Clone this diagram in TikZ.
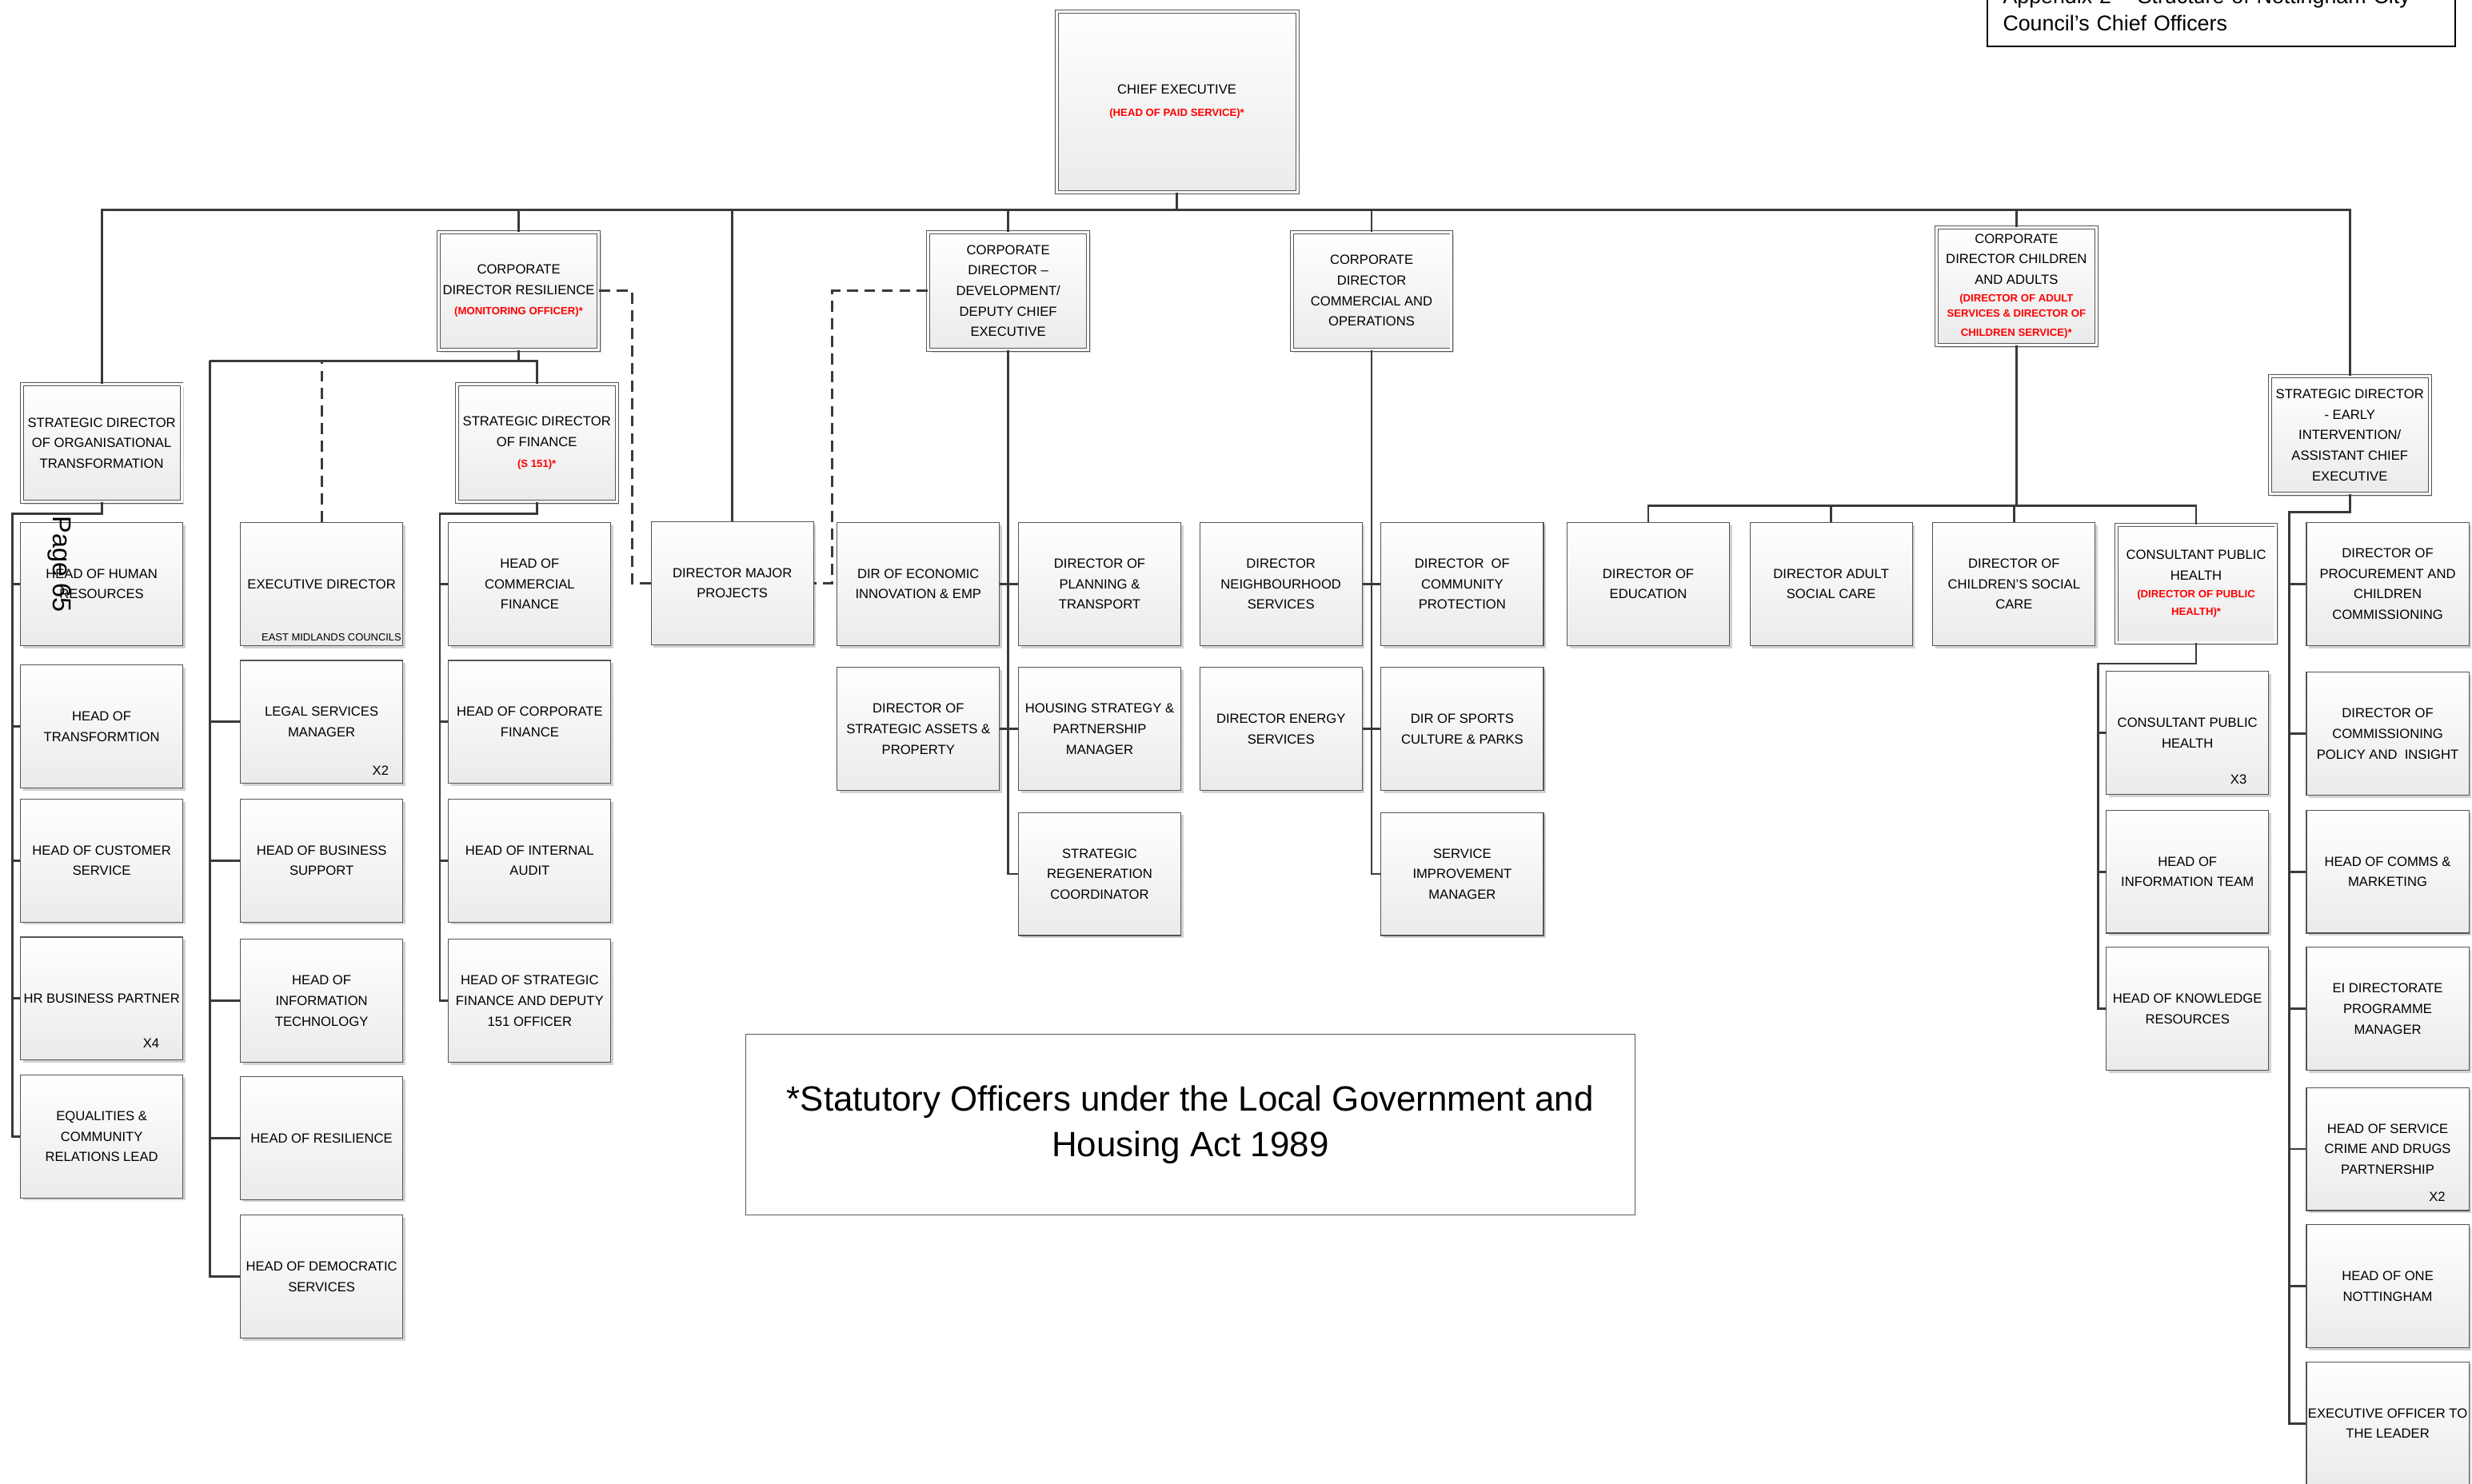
\documentclass[tikz,border=0pt]{standalone}
\usepackage{fontspec}
\setmainfont{Liberation Sans}
\usetikzlibrary{shadows}
\definecolor{linegray}{HTML}{3A3A3A}
\definecolor{boxgray}{HTML}{555555}
\newcommand\redrole{\color{red}\bfseries\fontsize{5.7}{9}\selectfont}

\tikzset{
  post/.style={draw=boxgray, line width=0.5pt, top color=white, bottom color=black!8,
    minimum width=3.09cm, minimum height=2.34cm, inner sep=0.5pt, align=center,
    font=\fontsize{7.2}{11.1}\selectfont,
    drop shadow={shadow xshift=1.4pt, shadow yshift=-1.4pt, fill=gray!70, opacity=0.5}},
  lead/.style={post, double=white, double distance=1.3pt, line width=0.4pt,
    minimum width=3.04cm, minimum height=2.24cm},
  count/.style={font=\fontsize{7.2}{9}\selectfont, inner sep=0pt, anchor=base east},
  conn/.style={draw=linegray, line width=1.2pt},
  dashline/.style={conn, dash pattern=on 6pt off 3.5pt},
}

\begin{document}
\begin{tikzpicture}[x=0.03cm, y=-0.03cm]
\useasboundingbox (0,0) rectangle (1568,941);

\node[lead, minimum width=4.58cm, minimum height=3.44cm] (ce) at (746.5,64.5)
  {CHIEF EXECUTIVE\\[1pt]{\redrole (HEAD OF PAID SERVICE)*}};

\node[lead] (sdot) at (64.5,281) {STRATEGIC DIRECTOR\\OF ORGANISATIONAL\\TRANSFORMATION};
\node[lead] (cdr) at (329,184.5) {CORPORATE\\DIRECTOR RESILIENCE\\{\redrole (MONITORING OFFICER)*}};
\node[lead] (sdf) at (340.5,281) {STRATEGIC DIRECTOR\\OF FINANCE\\{\redrole (S 151)*}};
\node[lead] (cdd) at (639.5,184.5) {CORPORATE\\DIRECTOR --\\DEVELOPMENT/\\DEPUTY CHIEF\\EXECUTIVE};
\node[lead] (cdc) at (870,184.5) {CORPORATE\\DIRECTOR\\COMMERCIAL AND\\OPERATIONS};
\node[lead] (cdca) at (1279,181.5) {CORPORATE\\DIRECTOR CHILDREN\\AND ADULTS\\[-1.7pt]{\redrole (DIRECTOR OF ADULT}\\[-2.6pt]{\redrole SERVICES \& DIRECTOR OF}\\[-0.9pt]{\redrole CHILDREN SERVICE)*}};
\node[lead] (sdei) at (1490.5,276) {STRATEGIC DIRECTOR\\- EARLY\\INTERVENTION/\\ASSISTANT CHIEF\\EXECUTIVE};
\node[lead] (cph) at (1393,370.5) {CONSULTANT PUBLIC\\HEALTH\\[-1.5pt]{\redrole (DIRECTOR OF PUBLIC}\\[-1.5pt]{\redrole HEALTH)*}};

\node[post] (dmp) at (464.5,370) {DIRECTOR MAJOR\\PROJECTS};

\node[post] (hhr) at (64.5,370.5) {HEAD OF HUMAN\\RESOURCES};
\node[post] (ht) at (64.5,461) {HEAD OF\\TRANSFORMTION};
\node[post] (hcs) at (64.5,546) {HEAD OF CUSTOMER\\SERVICE};
\node[post] (hrbp) at (64.5,633.5) {HR BUSINESS PARTNER};
\node[post] (ecr) at (64.5,721) {EQUALITIES \&\\COMMUNITY\\RELATIONS LEAD};

\node[post] (ed) at (204,370.5) {EXECUTIVE DIRECTOR};
\node[post] (lsm) at (204,458) {LEGAL SERVICES\\MANAGER};
\node[post] (hbs) at (204,546) {HEAD OF BUSINESS\\SUPPORT};
\node[post] (hitech) at (204,635) {HEAD OF\\INFORMATION\\TECHNOLOGY};
\node[post] (hres) at (204,722) {HEAD OF RESILIENCE};
\node[post] (hds) at (204,810) {HEAD OF DEMOCRATIC\\SERVICES};

\node[post] (hcomf) at (336,370.5) {HEAD OF\\COMMERCIAL\\FINANCE};
\node[post] (hcorpf) at (336,458) {HEAD OF CORPORATE\\FINANCE};
\node[post] (hia) at (336,546) {HEAD OF INTERNAL\\AUDIT};
\node[post] (hsf) at (336,635) {HEAD OF STRATEGIC\\FINANCE AND DEPUTY\\151 OFFICER};

\node[post] (dei) at (582.5,370.5) {DIR OF ECONOMIC\\INNOVATION \& EMP};
\node[post] (dpt) at (697.5,370.5) {DIRECTOR OF\\PLANNING \&\\TRANSPORT};
\node[post] (dsap) at (582.5,462.5) {DIRECTOR OF\\STRATEGIC ASSETS \&\\PROPERTY};
\node[post] (hspm) at (697.5,462.5) {HOUSING STRATEGY \&\\PARTNERSHIP\\MANAGER};
\node[post] (src) at (697.5,554.5) {STRATEGIC\\REGENERATION\\COORDINATOR};

\node[post] (dns) at (812.5,370.5) {DIRECTOR\\NEIGHBOURHOOD\\SERVICES};
\node[post] (dcp) at (927.5,370.5) {DIRECTOR~ OF\\COMMUNITY\\PROTECTION};
\node[post] (des) at (812.5,462.5) {DIRECTOR ENERGY\\SERVICES};
\node[post] (dscp) at (927.5,462.5) {DIR OF SPORTS\\CULTURE \& PARKS};
\node[post] (sim) at (927.5,554.5) {SERVICE\\IMPROVEMENT\\MANAGER};

\node[post] (doe) at (1045.5,370.5) {DIRECTOR OF\\EDUCATION};
\node[post] (dasc) at (1161.5,370.5) {DIRECTOR ADULT\\SOCIAL CARE};
\node[post] (dcsc) at (1277.5,370.5) {DIRECTOR OF\\CHILDREN'S SOCIAL\\CARE};

\node[post] (cph3) at (1387.5,465) {CONSULTANT PUBLIC\\HEALTH};
\node[post] (hinf) at (1387.5,553) {HEAD OF\\INFORMATION TEAM};
\node[post] (hkr) at (1387.5,640) {HEAD OF KNOWLEDGE\\RESOURCES};

\node[post] (dpcc) at (1514.5,370.5) {DIRECTOR OF\\PROCUREMENT AND\\CHILDREN\\COMMISSIONING};
\node[post] (dcpi) at (1514.5,465.5) {DIRECTOR OF\\COMMISSIONING\\POLICY AND~ INSIGHT};
\node[post] (hcm) at (1514.5,553) {HEAD OF COMMS \&\\MARKETING};
\node[post] (eipm) at (1514.5,640) {EI DIRECTORATE\\PROGRAMME\\MANAGER};
\node[post] (hscdp) at (1514.5,729) {HEAD OF SERVICE\\CRIME AND DRUGS\\PARTNERSHIP};
\node[post] (hon) at (1514.5,816) {HEAD OF ONE\\NOTTINGHAM};
\node[post] (eol) at (1514.5,903) {EXECUTIVE OFFICER TO\\THE LEADER};

\node[count] (hrbpx) at ([xshift=-0.45cm, yshift=0.24cm]hrbp.south east) {X4};
\node[count] (lsmx) at ([xshift=-0.27cm, yshift=0.17cm]lsm.south east) {X2};
\node[count] (cph3x) at ([xshift=-0.42cm, yshift=0.2cm]cph3.south east) {X3};
\node[count] (hscdpx) at ([xshift=-0.45cm, yshift=0.18cm]hscdp.south east) {X2};
\node[count, font=\fontsize{5.6}{7}\selectfont] (edorg) at ([xshift=-0.03cm, yshift=0.1cm]ed.south east) {EAST MIDLANDS COUNCILS};

\node[rotate=-90, inner sep=0pt, font=\fontsize{14}{14}\selectfont] (pagemark) at (38,358) {Page 65};

\node[draw=gray!70!black, line width=0.5pt, minimum width=16.92cm, minimum height=3.45cm,
  align=center, font=\fontsize{19}{24.7}\selectfont] (statnote) at (755,713.5)
  {*Statutory Officers under the Local Government and\\Housing Act 1989};

\node[draw=black, line width=0.8pt, anchor=south west, text width=8.31cm, inner sep=0.3cm,
  align=left, font=\fontsize{11.6}{14.5}\selectfont] (apx) at (1260,30)
  {Appendix 2 -- Structure of Nottingham City\\Council's Chief Officers};

\coordinate (topbus) at (0,133);
\draw[conn] (ce.south) -- (ce.south |- topbus);
\draw[conn] (sdot.north) |- (topbus -| sdei.north) -- (sdei.north);
\foreach \n in {cdr,dmp,cdd,cdc,cdca}
  \draw[conn] (\n.north) -- (\n.north |- topbus);

\coordinate (orgbus) at (8,326);
\draw[conn] (sdot.south) |- (orgbus) |- (ecr.west);
\foreach \n in {hhr,ht,hcs,hrbp}
  \draw[conn] (\n.west) -- (\n.west -| orgbus);

\coordinate (resbus) at (133,229);
\draw[conn] (cdr.south) -- (cdr.south |- resbus);
\draw[conn] (resbus) -| (sdf.north);
\draw[conn] (resbus) |- (hds.west);
\foreach \n in {lsm,hbs,hitech,hres}
  \draw[conn] (\n.west) -- (\n.west -| resbus);
\draw[dashline] (ed.north) -- (ed.north |- resbus);

\coordinate (finbus) at (279,326);
\draw[conn] (sdf.south) |- (finbus) |- (hsf.west);
\foreach \n in {hcomf,hcorpf,hia}
  \draw[conn] (\n.west) -- (\n.west -| finbus);

\coordinate (dashR) at (401,0);
\coordinate (dashL) at (528,0);
\draw[dashline] (cdr.east) -| (dashR |- dmp.west) -- (dmp.west);
\draw[dashline] (cdd.west) -| (dashL |- dmp.east) -- (dmp.east);

\draw[conn] (cdd.south) |- (src.west);
\draw[conn] (dei.east) -- (dpt.west);
\draw[conn] (dsap.east) -- (hspm.west);

\draw[conn] (cdc.south) |- (sim.west);
\draw[conn] (dns.east) -- (dcp.west);
\draw[conn] (des.east) -- (dscp.west);

\coordinate (carebus) at (0,321);
\draw[conn] (cdca.south) -- (cdca.south |- carebus);
\draw[conn] (doe.north) |- (carebus -| cph.north) -- (cph.north);
\foreach \n in {dasc,dcsc}
  \draw[conn] (\n.north) -- (\n.north |- carebus);

\coordinate (phbus) at (1331,421);
\draw[conn] (cph.south) |- (phbus) |- (hkr.west);
\foreach \n in {cph3,hinf}
  \draw[conn] (\n.west) -- (\n.west -| phbus);

\coordinate (eibus) at (1452,325);
\draw[conn] (sdei.south) |- (eibus) |- (eol.west);
\foreach \n in {dpcc,dcpi,hcm,eipm,hscdp,hon}
  \draw[conn] (\n.west) -- (\n.west -| eibus);
\end{tikzpicture}
\end{document}
